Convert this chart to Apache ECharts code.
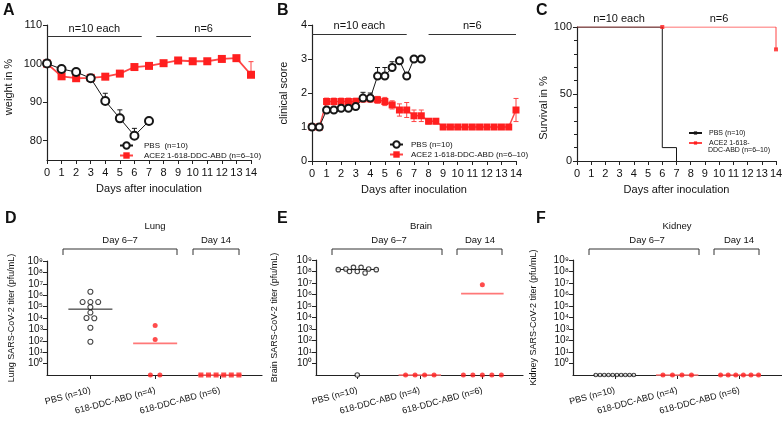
<!DOCTYPE html>
<html><head><meta charset="utf-8">
<script src="https://cdn.jsdelivr.net/npm/echarts@6/dist/echarts.min.js"></script>
<style>html,body{margin:0;padding:0;background:#fff}#c{width:782px;height:424px}</style>
</head><body><div id="c"></div>
<script>
// ---------------- DATA ----------------
const dayTicks = [0,1,2,3,4,5,6,7,8,9,10,11,12,13,14];

// Panel A: weight in %
const weightDaysPBS = [0,1,2,3,4,5,6,7];
const weightPBS     = [100,98.6,97.8,96.2,90.3,85.8,81.3,85.1];
const weightPBSErr  = [0,0,0,0,2.0,2.2,1.9,0];
const weightDaysACE = [0,1,2,3,4,5,6,7,8,9,10,11,12,13,14];
const weightACE     = [100,96.7,96.2,96.3,96.6,97.4,99.1,99.4,100.1,100.8,100.6,100.6,101.2,101.4,97.1];
const weightACEErr  = [0,0,0,0,0,0,0,0,0,0,0,0,0,0,3.4];

// Panel B: clinical score
const scoreDaysPBS = [0,0.5,1,1.5,2,2.5,3,3.5,4,4.5,5,5.5,6,6.5,7,7.5];
const scorePBS     = [1,1,1.5,1.5,1.55,1.55,1.6,1.85,1.85,2.5,2.5,2.75,2.95,2.5,3,3];
const scorePBSErr  = [0,0,0,0,0,0,0,0.17,0.15,0.25,0.25,0.17,0,0,0,0];
const scoreDaysACE = [0,0.5,1,1.5,2,2.5,3,3.5,4,4.5,5,5.5,6,6.5,7,7.5,8,8.5,9,9.5,10,10.5,11,11.5,12,12.5,13,13.5,14];
const scoreACE     = [1,1,1.75,1.75,1.75,1.75,1.75,1.83,1.83,1.8,1.75,1.65,1.5,1.5,1.33,1.33,1.17,1.17,1,1,1,1,1,1,1,1,1,1,1.5];
const scoreACEErr  = [0,0,0.1,0.1,0.1,0.1,0.1,0.1,0.1,0.1,0.12,0.12,0.18,0.22,0.17,0.17,0.08,0.08,0,0,0,0,0,0,0,0,0,0,0.34];

// Panel C: survival
const survDaysPBS = [0,6,7];
const survPBS     = [100,10,0];
const survDaysACE = [0,14];
const survACE     = [100,83.3];
const censorDaysACE = [6,14];
const censorACE     = [100,83.3];

// Panels D-F: titers (pfu/mL), 0 = below detection
const titerGroups = ['PBS (n=10)','618-DDC-ABD (n=4)','618-DDC-ABD (n=6)'];
const titerExponents = [0,1,2,3,4,5,6,7,8,9];
const lungPBS   = [2e6,2.5e5,2.5e5,2.5e5,9e4,3e4,1e4,9.5e3,1.4e3,83];
const lungD67   = [2.2e3,130,0,0];
const lungD14   = [0,0,0,0,0,0];
const lungLines = [6e4,59,0];
const brainPBS   = [2.3e8,2.3e8,1.65e8,1.65e8,1.45e8,1.45e8,1e8,1e8,7.4e7,0];
const brainD67   = [0,0,0,0];
const brainD14   = [7e6,0,0,0,0,0];
const brainLines = [1.5e8,0,1.2e6];
const kidneyPBS   = [0,0,0,0,0,0,0,0,0,0];
const kidneyD67   = [0,0,0,0];
const kidneyD14   = [0,0,0,0,0,0];
const kidneyLines = [0,0,0];

// annotation texts
const nSpansA = [[0,6.5],[7.5,14]];
const nSpansB = [[0,6.5],[8,14]];
const nLabels = ['n=10 each','n=6'];

// ---------------- STYLE ----------------
const FONT = "'Liberation Sans', Arial, Helvetica, sans-serif";
const BLACK = '#161616', RED = '#ff1f1f', RED_LINE = '#ff4545', RED_MEAN = '#ff7878', AXIS = '#222', TXT = '#111';
const FLOOR = 0.1;
const SUP = ['\u2070','\u00b9','\u00b2','\u00b3','\u2074','\u2075','\u2076','\u2077','\u2078','\u2079'];

const grids = [
  {left:47,  top:25,  width:204, height:135},
  {left:312, top:25,  width:204, height:136},
  {left:577, top:27,  width:199, height:134},
  {left:47,  top:261, width:215, height:114},
  {left:316, top:260, width:207, height:115},
  {left:573, top:260, width:209, height:115}
];
const groupRange = [[-0.67,2.65],[-0.66,2.65],[-0.67,2.68]];

const zip = (a,b) => a.map((v,i)=>[v,b[i]]);
const axLine = {show:true, onZero:false, lineStyle:{color:AXIS, width:1.2}};
const axTick = {show:true, inside:false, length:4, lineStyle:{color:AXIS, width:1}};

function dayAxis(g, margin) {
  return {type:'value', gridIndex:g, min:0, max:14, interval:1,
    axisLine:axLine, axisTick:axTick, splitLine:{show:false},
    axisLabel:{fontSize:11, color:TXT, margin:margin, fontFamily:FONT},
    name:'Days after inoculation', nameLocation:'middle', nameGap:23,
    nameTextStyle:{fontSize:11, color:TXT, fontFamily:FONT}};
}
function groupAxis(g, r) {
  return {type:'value', gridIndex:g, min:r[0], max:r[1],
    axisLine:axLine, axisTick:Object.assign({}, axTick, {customValues:[0,1,2]}), splitLine:{show:false},
    axisLabel:{customValues:[0,1,2], rotate:15, fontSize:9, color:TXT, margin:15, fontFamily:FONT,
      formatter:v=>titerGroups[Math.round(v)]}};
}
function titerAxis(g, name, gap) {
  const vals = titerExponents.map(e=>Math.pow(10,e));
  return {type:'log', logBase:10, gridIndex:g, min:FLOOR, max:1e9, splitNumber:10,
    axisLine:axLine, splitLine:{show:false},
    axisTick:Object.assign({}, axTick, {customValues:vals}),
    axisLabel:{customValues:vals, margin:4, fontSize:10, color:TXT, fontFamily:FONT, hideOverlap:false,
      formatter:v=>{const e=Math.round(Math.log10(v)); return e<0?'':'10'+SUP[e];}},
    name:name, nameLocation:'middle', nameGap:gap,
    nameTextStyle:{fontSize:9, color:TXT, fontFamily:FONT}};
}

function errSeries(ax, xs, ys, errs, color, both) {
  const data = [];
  xs.forEach((x,i)=>{ if (errs[i] > 0) data.push([x, both ? ys[i]-errs[i] : ys[i], ys[i]+errs[i]]); });
  return {type:'custom', xAxisIndex:ax, yAxisIndex:ax, silent:true, z:3, encode:{x:0, y:[1,2]}, data,
    renderItem(params, api) {
      const x = api.value(0), lo = api.coord([x, api.value(1)]), hi = api.coord([x, api.value(2)]);
      const w = 2.5, st = {stroke:color, lineWidth:1};
      const ch = [
        {type:'line', shape:{x1:lo[0],y1:lo[1],x2:hi[0],y2:hi[1]}, style:st},
        {type:'line', shape:{x1:hi[0]-w,y1:hi[1],x2:hi[0]+w,y2:hi[1]}, style:st}];
      if (both) ch.push({type:'line', shape:{x1:lo[0]-w,y1:lo[1],x2:lo[0]+w,y2:lo[1]}, style:st});
      return {type:'group', children:ch};
    }};
}

function nMarkLine(spans, y) {
  return {symbol:'none', silent:true, animation:false,
    lineStyle:{color:'#333', type:'solid', width:1},
    label:{show:true, position:'insideMiddleTop', distance:2, formatter:'{b}', fontSize:11, color:TXT, fontFamily:FONT},
    data: spans.map((s,i)=>[{coord:[s[0],y], name:nLabels[i]},{coord:[s[1],y]}])};
}

// swarm layout: rows of points at similar height, centred on the group
function swarm(values, g, gi) {
  const gr = grids[gi], rng = groupRange[gi-3];
  const unitPerPx = (rng[1]-rng[0]) / gr.width;
  const pxPerDecade = gr.height / 10;
  const pts = values.map(v=>({v, y: v>0 ? Math.log10(v)*pxPerDecade : -1e9})).sort((a,b)=>b.v-a.v);
  const rows = [];
  pts.forEach(p=>{
    const last = rows[rows.length-1];
    const zero = p.v === 0;
    if (last && last.zero === zero && (zero || last.top - p.y <= 3)) last.items.push(p);
    else rows.push({zero, top:p.y, items:[p]});
  });
  const out = [];
  rows.forEach(r=>{
    const n = r.items.length;
    const sp = n > 1 ? Math.min(r.zero ? 9.5 : 7.8, 38/(n-1)) : 0;
    const offs = [];
    for (let i=0;i<n;i++) offs.push((i-(n-1)/2)*sp);
    offs.sort((a,b)=>Math.abs(a)-Math.abs(b) || a-b);
    r.items.forEach((p,i)=>out.push([g + offs[i]*unitPerPx, p.v>0 ? p.v : FLOOR]));
  });
  return out;
}

function meanSeries(ax, vals) {
  return {type:'custom', xAxisIndex:ax, yAxisIndex:ax, silent:true, z:2,
    data: vals.map((v,i)=>[i, v>0 ? v : FLOOR]),
    renderItem(params, api) {
      const g = api.value(0), v = api.value(1);
      const a = api.coord([g-0.34, v]), b = api.coord([g+0.34, v]);
      const red = g > 0;
      return {type:'line', shape:{x1:a[0],y1:a[1],x2:b[0],y2:b[1]},
        style:{stroke: red ? RED_MEAN : BLACK, lineWidth: red ? 1.6 : 1}};
    }};
}

function titerSeries(ax, pbs, d67, d14, lines, sizes, d14Symbol) {
  return [
    meanSeries(ax, lines),
    {type:'scatter', xAxisIndex:ax, yAxisIndex:ax, z:4, symbol:'circle', symbolSize:sizes[0],
      itemStyle:{color:'#fff', borderColor:BLACK, borderWidth:1.1}, data:swarm(pbs, 0, ax)},
    {type:'scatter', xAxisIndex:ax, yAxisIndex:ax, z:4, symbol:'circle', symbolSize:sizes[1],
      itemStyle:{color:RED}, data:swarm(d67, 1, ax)},
    {type:'scatter', xAxisIndex:ax, yAxisIndex:ax, z:4, symbol:d14Symbol, symbolSize:sizes[1],
      itemStyle:{color:RED}, data:swarm(d14, 2, ax)}
  ];
}

const legendNames = {
  'A-PBS':'PBS  (n=10)', 'A-ACE':'ACE2 1-618-DDC-ABD (n=6\u201310)',
  'B-PBS':'PBS (n=10)',  'B-ACE':'ACE2 1-618-DDC-ABD (n=6\u201310)',
  'C-PBS':'PBS (n=10)',  'C-ACE':'ACE2 1-618-'
};
function legend(left, top, names, fs, pad, ih, gap) {
  return {orient:'vertical', left, top, itemWidth:13, itemHeight:ih, itemGap:gap, selectedMode:false,
    data:names, formatter:n=>legendNames[n], padding:0,
    textStyle:{fontSize:fs, color:TXT, fontFamily:FONT, padding:[0,0,0,pad], lineHeight:fs+1}};
}

// graphics (annotations)
function txt(x, y, t, fs, bold, align) {
  return {type:'text', x, y, silent:true,
    style:{text:t, fontSize:fs, fontWeight:bold?'bold':'normal', fontFamily:FONT, fill:TXT,
      align:align || (bold?'left':'center'), verticalAlign:'middle'}};
}
function bracket(x1, x2, y) {
  return {type:'polyline', silent:true, shape:{points:[[x1,y+6],[x1,y],[x2,y],[x2,y+6]]},
    style:{stroke:'#333', lineWidth:1, fill:null}};
}

const option = {
  animation:false,
  backgroundColor:'#fff',
  textStyle:{fontFamily:FONT},
  grid: grids.map(g=>Object.assign({containLabel:false, outerBoundsMode:'none'}, g)),
  legend:[
    legend(119, 141, ['A-PBS','A-ACE'], 8, 6, 8, 1),
    legend(389, 140, ['B-PBS','B-ACE'], 8, 3, 8, 1),
    legend(688, 129, ['C-PBS','C-ACE'], 7, 2, 4, 2)
  ],
  xAxis:[
    dayAxis(0,7), dayAxis(1,7), dayAxis(2,7),
    groupAxis(3, groupRange[0]), groupAxis(4, groupRange[1]), groupAxis(5, groupRange[2])
  ],
  yAxis:[
    {type:'value', gridIndex:0, min:75, max:110,
      axisLine:axLine, axisTick:Object.assign({}, axTick, {customValues:[80,90,100,110]}), splitLine:{show:false},
      axisLabel:{customValues:[80,90,100,110], fontSize:11, color:TXT, margin:5, fontFamily:FONT},
      name:'weight in %', nameLocation:'middle', nameGap:33,
      nameTextStyle:{fontSize:11, color:TXT, fontFamily:FONT, padding:[0,0,0,11]}},
    {type:'value', gridIndex:1, min:0, max:4, interval:1,
      axisLine:axLine, axisTick:axTick, splitLine:{show:false},
      axisLabel:{fontSize:11, color:TXT, margin:5, fontFamily:FONT},
      name:'clinical score', nameLocation:'middle', nameGap:23,
      nameTextStyle:{fontSize:11, color:TXT, fontFamily:FONT}},
    {type:'value', gridIndex:2, min:0, max:100, interval:50,
      axisLine:axLine, axisTick:axTick, minorTick:{show:true, splitNumber:5, length:3, lineStyle:{color:AXIS}},
      splitLine:{show:false}, minorSplitLine:{show:false},
      axisLabel:{fontSize:11, color:TXT, margin:5, fontFamily:FONT},
      name:'Survival in %', nameLocation:'middle', nameGap:27,
      nameTextStyle:{fontSize:11, color:TXT, fontFamily:FONT, padding:[0,28,0,0]}},
    titerAxis(3, 'Lung SARS-CoV-2 titer (pfu/mL)', 31),
    titerAxis(4, 'Brain SARS-CoV-2 titer (pfu/mL)', 37),
    titerAxis(5, 'Kidney SARS-CoV-2 titer (pfu/mL)', 35)
  ],
  series:[
    // A
    {name:'A-ACE', type:'line', xAxisIndex:0, yAxisIndex:0, z:3, data:zip(weightDaysACE, weightACE),
      symbol:'rect', symbolSize:8, color:RED, itemStyle:{color:RED}, lineStyle:{color:RED_LINE, width:1.8},
      markLine:nMarkLine(nSpansA, 107)},
    errSeries(0, weightDaysACE, weightACE, weightACEErr, RED_LINE, false),
    {name:'A-PBS', type:'line', xAxisIndex:0, yAxisIndex:0, z:5, data:zip(weightDaysPBS, weightPBS),
      symbol:'emptyCircle', symbolSize:8, color:BLACK, itemStyle:{color:BLACK, borderWidth:1.5}, lineStyle:{color:BLACK, width:1}},
    errSeries(0, weightDaysPBS, weightPBS, weightPBSErr, BLACK, false),
    // B
    {name:'B-ACE', type:'line', xAxisIndex:1, yAxisIndex:1, z:3, data:zip(scoreDaysACE, scoreACE),
      symbol:'rect', symbolSize:7, color:RED, itemStyle:{color:RED}, lineStyle:{color:RED_LINE, width:1.5},
      markLine:nMarkLine(nSpansB, 3.74)},
    errSeries(1, scoreDaysACE, scoreACE, scoreACEErr, RED_LINE, true),
    {name:'B-PBS', type:'line', xAxisIndex:1, yAxisIndex:1, z:5, data:zip(scoreDaysPBS, scorePBS),
      symbol:'emptyCircle', symbolSize:7, color:BLACK, itemStyle:{color:BLACK, borderWidth:1.5}, lineStyle:{color:BLACK, width:1}},
    errSeries(1, scoreDaysPBS, scorePBS, scorePBSErr, BLACK, false),
    // C
    {name:'C-ACE', type:'line', xAxisIndex:2, yAxisIndex:2, z:3, step:'end', data:zip(survDaysACE, survACE),
      symbol:'rect', symbolSize:4, showSymbol:false, color:RED, itemStyle:{color:RED}, lineStyle:{color:RED_LINE, width:1}},
    {type:'scatter', xAxisIndex:2, yAxisIndex:2, z:6, symbol:'rect', symbolSize:4, itemStyle:{color:RED},
      data:zip(censorDaysACE, censorACE)},
    {name:'C-PBS', type:'line', xAxisIndex:2, yAxisIndex:2, z:4, step:'end', data:zip(survDaysPBS, survPBS),
      symbol:'rect', symbolSize:4, showSymbol:false, color:BLACK, itemStyle:{color:BLACK}, lineStyle:{color:BLACK, width:1}},
    // D, E, F
    ...titerSeries(3, lungPBS, lungD67, lungD14, lungLines, [5,5], 'rect'),
    ...titerSeries(4, brainPBS, brainD67, brainD14, brainLines, [4.5,5], 'circle'),
    ...titerSeries(5, kidneyPBS, kidneyD67, kidneyD14, kidneyLines, [3.6,5], 'circle')
  ],
  graphic:[
    txt(3, 11, 'A', 16, true), txt(277, 11, 'B', 16, true), txt(536, 11, 'C', 16, true),
    txt(5, 219, 'D', 16, true), txt(277, 219, 'E', 16, true), txt(536, 219, 'F', 16, true),
    txt(619, 19, 'n=10 each', 11), txt(719, 19, 'n=6', 11),
    txt(708, 150, 'DDC-ABD (n=6\u201310)', 7, false, 'left'),
    txt(155, 226, 'Lung', 9.5), txt(120, 240, 'Day 6\u20137', 9.5), txt(216, 240, 'Day 14', 9.5),
    bracket(63, 177, 249), bracket(193, 239, 249),
    txt(421, 226, 'Brain', 9.5), txt(389, 240, 'Day 6\u20137', 9.5), txt(480, 240, 'Day 14', 9.5),
    bracket(332, 442, 249), bracket(457, 502, 249),
    txt(677, 226, 'Kidney', 9.5), txt(647, 240, 'Day 6\u20137', 9.5), txt(739, 240, 'Day 14', 9.5),
    bracket(589, 699, 249), bracket(714, 759, 249)
  ]
};

const chart = echarts.init(document.getElementById('c'), null, {renderer:'canvas'});
chart.setOption(option);
</script>
</body></html>
